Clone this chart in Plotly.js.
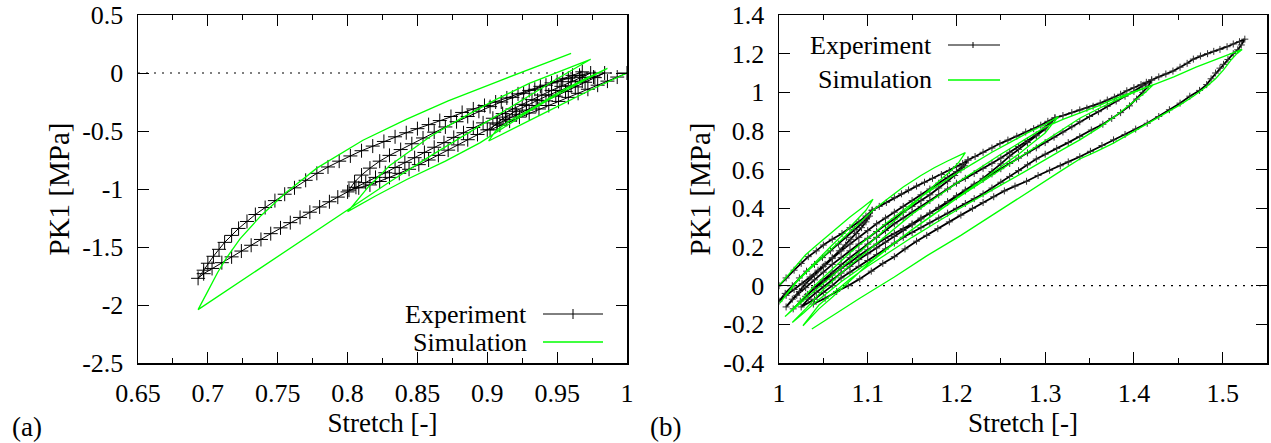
<!DOCTYPE html>
<html>
<head>
<meta charset="utf-8">
<script src="https://cdn.plot.ly/plotly-3.0.1.min.js"></script>
<style>html,body{margin:0;padding:0;background:#fff;}#chart{width:1271px;height:443px;}</style>
</head>
<body>
<div id="chart"></div>
<script>
// ---------- Panel (a): compression ----------
const stretchExpA = [
  1.0,0.993,0.986,0.979,0.972,0.965,0.958,0.951,0.944,0.937,0.93,0.923,0.916,0.909,0.902,
  0.907,0.913,0.92,0.928,0.936,0.944,0.952,0.96,0.968,0.976,0.984,
  0.977,0.97,0.963,0.956,0.949,0.942,0.935,0.928,0.921,0.914,0.907,0.9,0.893,0.886,0.879,0.872,0.865,0.858,0.851,0.844,0.837,0.83,0.823,0.816,0.808,0.801,
  0.805,0.81,0.816,0.823,0.83,0.838,0.846,0.854,0.862,0.87,0.878,0.886,0.894,0.902,0.91,0.918,0.926,0.934,0.942,0.95,0.958,0.966,0.974,
  0.967,0.96,0.953,0.946,0.939,0.932,0.925,0.918,0.911,0.904,0.897,0.89,0.883,0.876,0.869,0.862,0.855,0.848,0.841,0.834,0.827,0.82,0.813,0.806,0.8,0.793,0.787,0.78,0.773,0.766,0.759,0.752,0.745,0.738,0.731,0.724,0.717,0.71,0.703,0.697,0.693,
  0.697,0.7,0.704,0.708,0.712,0.717,0.722,0.728,0.734,0.741,0.748,0.755,0.762,0.77,0.778,0.786,0.794,0.802,0.81,0.818,0.826,0.834,0.842,0.85,0.858,0.866,0.874,0.882,0.89,0.898,0.906,0.914,0.922,0.93,0.938,0.946,0.954,0.961,0.968
];
const stressExpA = [
  0.0,-0.035,-0.07,-0.105,-0.14,-0.175,-0.21,-0.245,-0.28,-0.31,-0.345,-0.38,-0.415,-0.45,-0.49,
  -0.43,-0.38,-0.33,-0.28,-0.235,-0.19,-0.15,-0.11,-0.07,-0.035,0.0,
  -0.04,-0.08,-0.12,-0.16,-0.2,-0.24,-0.28,-0.32,-0.36,-0.4,-0.44,-0.49,-0.53,-0.575,-0.62,-0.665,-0.71,-0.75,-0.79,-0.83,-0.865,-0.9,-0.935,-0.965,-0.99,-1.01,
  -0.94,-0.88,-0.82,-0.76,-0.71,-0.66,-0.61,-0.56,-0.51,-0.465,-0.42,-0.375,-0.33,-0.29,-0.25,-0.21,-0.175,-0.14,-0.105,-0.075,-0.045,-0.02,0.0,
  -0.04,-0.075,-0.115,-0.15,-0.19,-0.23,-0.27,-0.31,-0.35,-0.39,-0.43,-0.47,-0.515,-0.555,-0.6,-0.64,-0.685,-0.73,-0.77,-0.815,-0.86,-0.9,-0.945,-0.985,-1.025,-1.07,-1.11,-1.155,-1.2,-1.245,-1.29,-1.335,-1.385,-1.435,-1.485,-1.535,-1.585,-1.635,-1.685,-1.73,-1.77,
  -1.7,-1.64,-1.58,-1.52,-1.46,-1.4,-1.34,-1.28,-1.22,-1.16,-1.1,-1.045,-0.99,-0.925,-0.865,-0.81,-0.76,-0.715,-0.67,-0.63,-0.59,-0.55,-0.515,-0.48,-0.445,-0.41,-0.375,-0.34,-0.31,-0.28,-0.25,-0.215,-0.18,-0.15,-0.115,-0.085,-0.05,-0.02,0.01
];
const stretchSimA = [
  1.0,0.975,0.95,0.925,0.901,
  0.906,0.915,0.93,0.954,0.97,0.986,
  0.97,0.95,0.93,0.91,0.895,0.87,0.842,0.82,0.80,
  0.804,0.815,0.83,0.859,0.88,0.906,0.93,0.955,0.974,
  0.95,0.92,0.89,0.86,0.83,0.80,0.77,0.74,0.715,0.693,
  0.70,0.707,0.713,0.723,0.738,0.756,0.778,0.811,0.842,0.872,0.906,0.937,0.96
];
const stressSimA = [
  0.0,-0.14,-0.29,-0.44,-0.586,
  -0.5,-0.42,-0.32,-0.147,-0.05,0.04,
  -0.06,-0.19,-0.33,-0.48,-0.6,-0.76,-0.92,-1.06,-1.195,
  -1.14,-0.98,-0.8,-0.55,-0.4,-0.23,-0.09,0.03,0.118,
  -0.05,-0.27,-0.49,-0.71,-0.94,-1.18,-1.42,-1.66,-1.86,-2.04,
  -1.88,-1.72,-1.6,-1.43,-1.23,-1.03,-0.82,-0.58,-0.4,-0.24,-0.08,0.06,0.17
];
const xTickValsA = [0.65,0.7,0.75,0.8,0.85,0.9,0.95,1];
const xTickTextA = ['0.65','0.7','0.75','0.8','0.85','0.9','0.95','1'];
const yTickValsA = [-2.5,-2,-1.5,-1,-0.5,0,0.5];
const yTickTextA = ['-2.5','-2','-1.5','-1','-0.5','0','0.5'];

// ---------- Panel (b): tension ----------
const stretchExpB = [
  1.0,1.008,1.017,1.025,1.033,1.042,1.05,1.06,1.071,1.08,1.09,1.098,1.105,
  1.102,1.098,1.093,1.087,1.081,1.075,1.068,1.06,1.052,1.044,1.035,1.026,1.017,1.008,1.0,
  1.007,1.015,1.023,1.031,1.04,1.049,1.058,1.067,1.076,1.085,1.093,1.1,1.105,
  1.113,1.121,1.13,1.138,1.146,1.155,1.164,1.173,1.183,1.192,1.2,1.207,1.213,
  1.209,1.205,1.198,1.19,1.18,1.17,1.16,1.15,1.14,1.13,1.12,1.11,1.1,1.09,1.08,1.07,1.06,1.05,1.04,1.03,1.02,1.008,
  1.015,1.023,1.03,1.04,1.05,1.06,1.07,1.08,1.09,1.1,1.11,1.12,1.13,1.14,1.15,1.16,1.17,1.18,1.19,1.2,1.207,1.213,
  1.221,1.23,1.24,1.249,1.258,1.268,1.278,1.287,1.295,1.303,1.311,
  1.306,1.3,1.29,1.28,1.27,1.26,1.25,1.24,1.23,1.22,1.21,1.2,1.19,1.18,1.17,1.16,1.15,1.14,1.13,1.12,1.11,1.1,1.09,1.08,1.07,1.06,1.05,1.04,1.03,1.016,
  1.024,1.032,1.04,1.05,1.06,1.07,1.08,1.09,1.1,1.11,1.12,1.13,1.14,1.15,1.16,1.17,1.18,1.19,1.2,1.21,1.22,1.23,1.24,1.25,1.26,1.27,1.28,1.29,1.3,1.306,1.311,
  1.32,1.33,1.339,1.347,1.354,1.362,1.37,1.378,1.385,1.392,1.4,1.408,1.414,1.42,
  1.416,1.41,1.403,1.395,1.385,1.375,1.365,1.352,1.339,1.326,1.313,1.3,1.29,1.28,1.27,1.26,1.25,1.24,1.23,1.22,1.21,1.2,1.19,1.18,1.17,1.16,1.15,1.14,1.13,1.12,1.11,1.1,1.09,1.08,1.07,1.06,1.05,1.04,1.025,
  1.033,1.042,1.05,1.06,1.07,1.08,1.09,1.1,1.11,1.12,1.13,1.14,1.15,1.16,1.17,1.18,1.19,1.2,1.21,1.22,1.23,1.24,1.25,1.26,1.27,1.28,1.29,1.3,1.31,1.32,1.33,1.339,1.35,1.36,1.37,1.38,1.39,1.4,1.41,1.42,
  1.428,1.436,1.444,1.452,1.46,1.467,1.475,1.483,1.49,1.497,1.505,1.512,1.519,1.525,
  1.521,1.517,1.512,1.506,1.501,1.497,1.492,1.487,1.482,1.474,1.463,1.452,1.44,1.428,1.415,1.402,1.39,1.377,1.364,1.351,1.339,1.326,1.317,1.305,1.292,1.279,1.266,1.254,1.242,1.23,1.218,1.205,1.192,1.179,1.1665,1.155,1.142,1.13,1.117,1.104,1.091,1.078,1.065,1.052,1.0387
];
const stressExpB = [
  0.0,0.04,0.08,0.115,0.15,0.18,0.21,0.24,0.27,0.3,0.33,0.36,0.39,
  0.36,0.33,0.3,0.27,0.24,0.21,0.18,0.145,0.11,0.08,0.045,0.01,-0.02,-0.05,-0.08,
  -0.04,0.0,0.04,0.075,0.11,0.145,0.18,0.215,0.25,0.29,0.32,0.355,0.39,
  0.41,0.43,0.455,0.475,0.495,0.515,0.535,0.555,0.575,0.595,0.615,0.632,0.65,
  0.62,0.6,0.57,0.54,0.505,0.47,0.44,0.41,0.38,0.345,0.315,0.28,0.245,0.215,0.18,0.145,0.11,0.07,0.03,-0.01,-0.05,-0.11,
  -0.07,-0.03,0.01,0.055,0.1,0.14,0.18,0.215,0.25,0.285,0.32,0.35,0.38,0.41,0.44,0.47,0.5,0.53,0.56,0.59,0.62,0.65,
  0.668,0.69,0.712,0.735,0.753,0.773,0.795,0.812,0.83,0.85,0.868,
  0.84,0.81,0.775,0.74,0.705,0.67,0.63,0.59,0.555,0.52,0.49,0.46,0.43,0.4,0.375,0.35,0.32,0.295,0.27,0.245,0.215,0.185,0.155,0.12,0.09,0.055,0.02,-0.015,-0.055,-0.12,
  -0.08,-0.045,-0.01,0.03,0.07,0.11,0.145,0.18,0.215,0.25,0.285,0.32,0.35,0.38,0.41,0.44,0.47,0.5,0.53,0.555,0.58,0.607,0.633,0.66,0.69,0.72,0.75,0.78,0.82,0.845,0.868,
  0.88,0.895,0.909,0.918,0.928,0.944,0.96,0.975,0.99,1.008,1.024,1.04,1.052,1.064,
  1.03,1.0,0.965,0.93,0.895,0.865,0.835,0.805,0.771,0.74,0.71,0.68,0.655,0.625,0.595,0.565,0.535,0.505,0.475,0.45,0.425,0.4,0.375,0.35,0.325,0.3,0.275,0.25,0.22,0.19,0.16,0.13,0.1,0.07,0.04,0.0,-0.035,-0.07,-0.11,
  -0.07,-0.035,-0.005,0.03,0.065,0.1,0.135,0.165,0.195,0.225,0.255,0.285,0.315,0.345,0.375,0.405,0.435,0.465,0.495,0.525,0.55,0.578,0.605,0.632,0.66,0.687,0.713,0.74,0.768,0.795,0.822,0.848,0.875,0.9,0.928,0.955,0.98,1.005,1.035,1.064,
  1.08,1.095,1.11,1.13,1.15,1.172,1.188,1.2,1.212,1.222,1.236,1.25,1.262,1.275,
  1.245,1.22,1.2,1.17,1.145,1.125,1.1,1.07,1.04,1.01,0.98,0.944,0.91,0.875,0.84,0.81,0.782,0.754,0.725,0.695,0.667,0.64,0.62,0.597,0.57,0.54,0.515,0.49,0.46,0.43,0.4,0.365,0.33,0.295,0.26,0.23,0.19,0.15,0.115,0.075,0.035,0.0,-0.03,-0.065,-0.095
];
const stretchSimB = [
  1.0,1.01,1.02,1.03,1.04,1.05,1.06,1.07,1.08,1.093,1.106,
  1.098,1.09,1.08,1.07,1.06,1.05,1.04,1.03,1.02,1.01,1.001,
  1.01,1.02,1.03,1.045,1.06,1.075,1.09,1.106,1.12,1.14,1.16,1.175,1.19,1.2,1.21,
  1.203,1.195,1.185,1.17,1.155,1.14,1.125,1.11,1.095,1.08,1.065,1.05,1.035,1.02,1.0068,
  1.02,1.04,1.06,1.08,1.1,1.12,1.14,1.16,1.18,1.2,1.22,1.24,1.26,1.28,1.3,1.315,
  1.307,1.3,1.285,1.27,1.25,1.23,1.21,1.19,1.17,1.15,1.13,1.11,1.09,1.07,1.055,1.04,1.028,1.015,
  1.03,1.05,1.075,1.1,1.125,1.15,1.175,1.2,1.225,1.25,1.275,1.3,1.32,1.339,1.36,1.38,1.4,1.422,
  1.413,1.405,1.393,1.38,1.36,1.339,1.32,1.3,1.275,1.25,1.225,1.2,1.175,1.15,1.125,1.1,1.08,1.06,1.045,1.027,
  1.045,1.06,1.08,1.1,1.125,1.15,1.175,1.2,1.225,1.25,1.275,1.3,1.32,1.339,1.36,1.38,1.4,1.422,1.445,1.47,1.495,1.522,
  1.516,1.51,1.501,1.492,1.482,1.467,1.452,1.433,1.415,1.396,1.377,1.358,1.339,1.32,1.302,1.272,1.242,1.205,1.1665,1.13,1.091,1.065,1.037
];
const stressSimB = [
  0.0,0.055,0.11,0.16,0.2,0.24,0.28,0.32,0.355,0.4,0.447,
  0.39,0.35,0.3,0.255,0.21,0.165,0.12,0.07,0.025,-0.035,-0.09,
  -0.04,0.02,0.065,0.13,0.19,0.255,0.32,0.39,0.44,0.51,0.57,0.61,0.645,0.665,0.688,
  0.64,0.6,0.56,0.5,0.44,0.38,0.315,0.25,0.19,0.13,0.07,0.01,-0.05,-0.11,-0.16,
  -0.1,0.0,0.085,0.17,0.245,0.32,0.39,0.46,0.52,0.58,0.635,0.69,0.74,0.79,0.835,0.874,
  0.83,0.79,0.735,0.68,0.615,0.55,0.485,0.42,0.355,0.29,0.22,0.15,0.085,0.02,-0.035,-0.09,-0.14,-0.19,
  -0.12,-0.02,0.085,0.18,0.275,0.37,0.45,0.53,0.605,0.68,0.75,0.82,0.86,0.892,0.93,0.97,1.005,1.04,
  1.0,0.97,0.925,0.88,0.815,0.754,0.705,0.65,0.585,0.52,0.455,0.39,0.32,0.25,0.175,0.1,0.035,-0.04,-0.1,-0.207,
  -0.12,-0.06,0.025,0.11,0.2,0.29,0.37,0.45,0.525,0.6,0.675,0.75,0.81,0.866,0.915,0.96,1.0,1.038,1.08,1.13,1.175,1.222,
  1.2,1.17,1.116,1.07,1.03,0.98,0.935,0.885,0.84,0.79,0.737,0.695,0.655,0.6,0.547,0.46,0.371,0.26,0.154,0.045,-0.065,-0.14,-0.224
];
const xTickValsB = [1,1.1,1.2,1.3,1.4,1.5];
const xTickTextB = ['1','1.1','1.2','1.3','1.4','1.5'];
const yTickValsB = [-0.4,-0.2,0,0.2,0.4,0.6,0.8,1,1.2,1.4];
const yTickTextB = ['-0.4','-0.2','0','0.2','0.4','0.6','0.8','1','1.2','1.4'];

const seriesNames = ['Experiment','Simulation'];

const FONT = 'Liberation Serif';
const GREEN = '#00ff00';

const traces = [
  {x: stretchExpA, y: stressExpA, xaxis:'x', yaxis:'y', mode:'lines+markers', name:seriesNames[0],
   line:{color:'#000', width:1}, marker:{symbol:'cross-thin', size:10, line:{color:'#000', width:1}}, showlegend:false},
  {x: stretchSimA, y: stressSimA, xaxis:'x', yaxis:'y', mode:'lines', name:seriesNames[1],
   line:{color:GREEN, width:1.3}, showlegend:false},
  {x: stretchExpB, y: stressExpB, xaxis:'x2', yaxis:'y2', mode:'lines+markers', name:seriesNames[0],
   line:{color:'#000', width:1.8}, marker:{symbol:'cross-thin', size:5, line:{color:'#333', width:1}}, showlegend:false},
  {x: stretchSimB, y: stressSimB, xaxis:'x2', yaxis:'y2', mode:'lines', name:seriesNames[1],
   line:{color:GREEN, width:1.3}, showlegend:false}
];

const W = 1271, H = 443;
const px = v => v / W, py = v => 1 - v / H;

function axisX(domain, range, vals, text, minorStep){
  return {domain: domain, range: range, tickmode:'array', tickvals: vals, ticktext: text,
    ticks:'inside', ticklen:11, tickwidth:1, tickcolor:'#000',
    minor:{dtick:minorStep, ticks:'inside', ticklen:5, tickwidth:1, tickcolor:'#000', showgrid:false},
    showline:true, linewidth:1.5, linecolor:'#000', mirror:'allticks', showgrid:false, zeroline:false,
    tickfont:{family:FONT, size:26, color:'#000'}, ticklabelstandoff:6,
    title:{text:'Stretch [-]', font:{family:FONT, size:27, color:'#000'}, standoff:2}};
}
function axisY(domain, range, vals, text, anchor){
  return {domain: domain, range: range, anchor: anchor, tickmode:'array', tickvals: vals, ticktext: text,
    ticks:'inside', ticklen:11, tickwidth:1, tickcolor:'#000',
    showline:true, linewidth:1.5, linecolor:'#000', mirror:'allticks', showgrid:false, zeroline:false,
    tickfont:{family:FONT, size:26, color:'#000'}, ticklabelstandoff:8,
    title:{text:'PK1 [MPa]', font:{family:FONT, size:29, color:'#000'}, standoff:4}};
}

const yDom = [py(363), py(15)];
const layout = {
  width:W, height:H, margin:{l:0,r:0,t:0,b:0}, paper_bgcolor:'#fff', plot_bgcolor:'#fff',
  showlegend:false,
  font:{family:FONT, color:'#000'},
  xaxis: Object.assign(axisX([px(138), px(627)], [0.65,1.0], xTickValsA, xTickTextA, 0.025), {anchor:'y'}),
  yaxis: axisY(yDom, [-2.5,0.5], yTickValsA, yTickTextA, 'x'),
  xaxis2: Object.assign(axisX([px(779), px(1267)], [1.0,1.55], xTickValsB, xTickTextB, 0.05), {anchor:'y2'}),
  yaxis2: axisY(yDom, [-0.4,1.4], yTickValsB, yTickTextB, 'x2'),
  shapes: [
    {type:'line', layer:'below', xref:'x domain', yref:'y', x0:0, x1:1.01, y0:0, y1:0, line:{color:'#000', width:1.2, dash:'2px,6px'}},
    {type:'line', layer:'below', xref:'x2 domain', yref:'y2', x0:0, x1:1, y0:0, y1:0, line:{color:'#000', width:1.2, dash:'2px,6px'}},
    {type:'line', xref:'paper', yref:'paper', x0:px(543), x1:px(603), y0:py(314), y1:py(314), line:{color:'#000', width:1}},
    {type:'line', xref:'paper', yref:'paper', x0:px(573), x1:px(573), y0:py(309), y1:py(319), line:{color:'#000', width:1}},
    {type:'line', xref:'paper', yref:'paper', x0:px(543), x1:px(603), y0:py(342), y1:py(342), line:{color:GREEN, width:1.3}},
    {type:'line', xref:'paper', yref:'paper', x0:px(948), x1:px(1000), y0:py(45), y1:py(45), line:{color:'#000', width:1}},
    {type:'line', xref:'paper', yref:'paper', x0:px(973), x1:px(973), y0:py(42), y1:py(48), line:{color:'#000', width:1}},
    {type:'line', xref:'paper', yref:'paper', x0:px(948), x1:px(1000), y0:py(80), y1:py(80), line:{color:GREEN, width:1.3}}
  ],
  annotations: [
    {xref:'paper', yref:'paper', x:px(529), y:py(314), xanchor:'right', yanchor:'middle', showarrow:false,
     text:seriesNames[0], font:{family:FONT, size:26, color:'#000'}},
    {xref:'paper', yref:'paper', x:px(529), y:py(342), xanchor:'right', yanchor:'middle', showarrow:false,
     text:seriesNames[1], font:{family:FONT, size:26, color:'#000'}},
    {xref:'paper', yref:'paper', x:px(934), y:py(45), xanchor:'right', yanchor:'middle', showarrow:false,
     text:seriesNames[0], font:{family:FONT, size:26, color:'#000'}},
    {xref:'paper', yref:'paper', x:px(934), y:py(80), xanchor:'right', yanchor:'middle', showarrow:false,
     text:seriesNames[1], font:{family:FONT, size:26, color:'#000'}},
    {xref:'paper', yref:'paper', x:px(10), y:py(427), xanchor:'left', yanchor:'middle', showarrow:false,
     text:'(a)', font:{family:FONT, size:27, color:'#000'}},
    {xref:'paper', yref:'paper', x:px(648), y:py(427), xanchor:'left', yanchor:'middle', showarrow:false,
     text:'(b)', font:{family:FONT, size:27, color:'#000'}}
  ]
};

Plotly.newPlot('chart', traces, layout, {staticPlot:true, displayModeBar:false});
</script>
</body>
</html>
